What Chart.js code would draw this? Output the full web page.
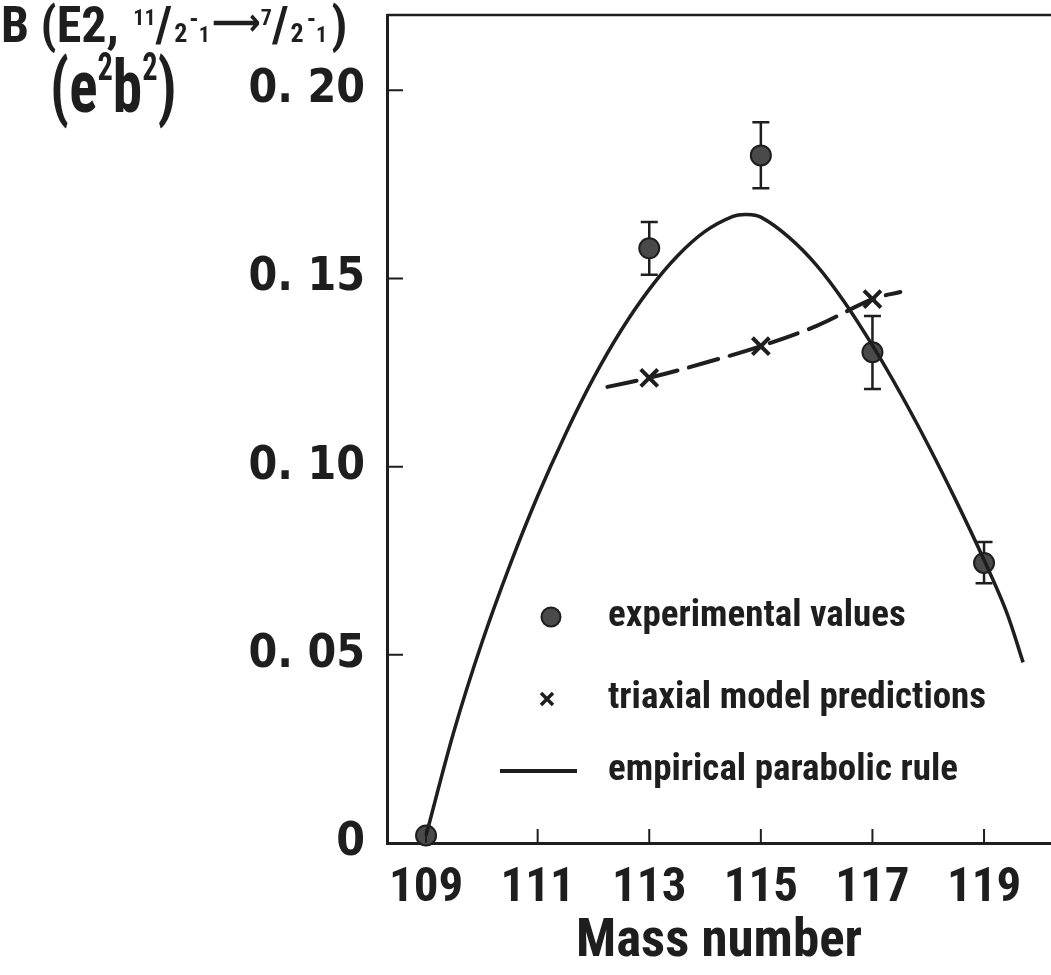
<!DOCTYPE html>
<html>
<head>
<meta charset="utf-8">
<script src="https://cdn.jsdelivr.net/npm/chart.js@4/dist/chart.umd.min.js"></script>
<style>
  html, body { margin: 0; padding: 0; background: #fff; overflow: hidden; }
  canvas { display: block; }
</style>
</head>
<body>
<canvas id="chart" width="1051" height="975" style="width:1051px;height:975px"></canvas>
<script>
// experimental B(E2) values with error bars
const expMass = [109, 113, 115, 117, 119];
const expValue = [0.002, 0.158, 0.1827, 0.1304, 0.0744];
const expLow = [0.002, 0.151, 0.174, 0.1206, 0.069];
const expHigh = [0.002, 0.165, 0.1915, 0.140, 0.080];

// triaxial model predictions (crosses) and the dashed guide through them
const triMass = [113, 115, 117];
const triValue = [0.1236, 0.132, 0.1445];
const dashMass = [112.25, 113, 114, 115, 116, 117, 117.5];
const dashValue = [0.1212, 0.1236, 0.1276, 0.132, 0.1374, 0.1445, 0.1464];

// empirical parabolic rule
const curveMass = [109, 109.5, 110, 110.5, 111, 111.5, 112, 112.5, 113, 113.5, 114, 114.5, 114.75, 115, 115.5, 116, 116.5, 117, 117.5, 118, 118.5, 119, 119.4, 119.7];
const curveValue = [0.002, 0.0297, 0.0532, 0.0737, 0.0922, 0.1087, 0.1235, 0.1363, 0.1471, 0.1559, 0.1625, 0.1665, 0.1670, 0.1663, 0.161, 0.1535, 0.1437, 0.1322, 0.1195, 0.1057, 0.0909, 0.0752, 0.0615, 0.048];

const xTicks = [109, 111, 113, 115, 117, 119];
const yTicks = [0, 0.05, 0.10, 0.15, 0.20];

const INK = '#1e1e1e';
const FONT = "'Roboto Condensed', 'Open Sans Condensed', 'DejaVu Sans Condensed', sans-serif";
const YFONT = "'DejaVu Sans Condensed', 'Roboto Condensed', sans-serif";

const pts = (xs, ys) => xs.map((x, i) => ({ x: x, y: ys[i] }));

function font(size) {
  return 'bold ' + size + 'px ' + FONT;
}

// draw a row of text pieces with different sizes / raises
function drawRuns(ctx, x, base, runs) {
  runs.forEach(r => {
    ctx.font = font(r.s);
    ctx.fillText(r.t, x, base + (r.dy || 0));
    x += ctx.measureText(r.t).width + (r.gap || 0);
  });
}

const extras = {
  id: 'extras',
  beforeDatasetsDraw(chart) {
    const { ctx } = chart;
    const xs = chart.scales.x, ys = chart.scales.y;
    ctx.save();
    ctx.strokeStyle = INK;
    ctx.lineWidth = 2.5;
    expMass.forEach((m, i) => {
      if (expHigh[i] - expLow[i] <= 0) return;
      const px = xs.getPixelForValue(m);
      const top = ys.getPixelForValue(expHigh[i]);
      const bot = ys.getPixelForValue(expLow[i]);
      ctx.beginPath();
      ctx.moveTo(px, top); ctx.lineTo(px, bot);
      ctx.moveTo(px - 8.5, top); ctx.lineTo(px + 8.5, top);
      ctx.moveTo(px - 8.5, bot); ctx.lineTo(px + 8.5, bot);
      ctx.stroke();
    });
    ctx.restore();
  },
  afterDraw(chart) {
    const { ctx, chartArea: a } = chart;
    const xs = chart.scales.x, ys = chart.scales.y;
    ctx.save();
    ctx.strokeStyle = INK;
    ctx.fillStyle = INK;

    // top frame line
    ctx.lineWidth = 2.5;
    ctx.beginPath();
    ctx.moveTo(a.left, a.top); ctx.lineTo(a.right, a.top);
    ctx.stroke();

    // inward tick marks
    ctx.lineWidth = 2;
    ctx.beginPath();
    yTicks.forEach(v => {
      if (v === 0) return;
      const py = ys.getPixelForValue(v);
      ctx.moveTo(a.left, py); ctx.lineTo(a.left + 16, py);
    });
    xTicks.forEach(v => {
      const px = xs.getPixelForValue(v);
      ctx.moveTo(px, a.bottom); ctx.lineTo(px, a.bottom - 14);
    });
    ctx.stroke();

    // y axis title, two lines at top left
    ctx.textBaseline = 'alphabetic';
    ctx.textAlign = 'left';
    drawRuns(ctx, 1, 42, [
      { t: 'B (E2, ', s: 50, gap: 3 },
      { t: '11', s: 22, dy: -17 },
      { t: '/', s: 50, gap: 2 },
      { t: '2', s: 26, gap: 2 },
      { t: '-', s: 26, dy: -15 },
      { t: '1', s: 22, gap: 2 },
      { t: '⟶', s: 38, dy: -7 },
      { t: '7', s: 22, dy: -17 },
      { t: '/', s: 50, gap: 2 },
      { t: '2', s: 26, gap: 3 },
      { t: '-', s: 26, dy: -15 },
      { t: '1', s: 22, gap: 4 },
      { t: ')', s: 50 }
    ]);
    ctx.save();
    ctx.scale(0.8, 1);
    drawRuns(ctx, 50 / 0.8, 112, [
      { t: '(e', s: 74 },
      { t: '2', s: 38, dy: -32 },
      { t: 'b', s: 74 },
      { t: '2', s: 38, dy: -32 },
      { t: ')', s: 74 }
    ]);
    ctx.restore();

    // legend inside the plot
    const lx = a.left + 164;
    const tx = a.left + 221;
    const rows = [a.top + 602, a.top + 684, a.top + 756];
    ctx.textBaseline = 'middle';
    ctx.font = font(37);
    ctx.fillText('experimental values', tx, rows[0]);
    ctx.fillText('triaxial model predictions', tx, rows[1]);
    ctx.fillText('empirical parabolic rule', tx, rows[2]);

    ctx.fillStyle = '#4a4a4a';
    ctx.lineWidth = 2;
    ctx.beginPath();
    ctx.arc(lx, rows[0], 9.5, 0, Math.PI * 2);
    ctx.fill();
    ctx.stroke();

    ctx.lineWidth = 3.5;
    ctx.beginPath();
    ctx.moveTo(lx - 10, rows[1] - 6); ctx.lineTo(lx + 2, rows[1] + 6);
    ctx.moveTo(lx - 10, rows[1] + 6); ctx.lineTo(lx + 2, rows[1] - 6);
    ctx.stroke();

    ctx.lineWidth = 4;
    ctx.beginPath();
    ctx.moveTo(lx - 51, rows[2]); ctx.lineTo(lx + 26, rows[2]);
    ctx.stroke();
    ctx.restore();
  }
};

// drop the label overhang padding so the plot box keeps its own frame
function noOverhang(s) {
  s.paddingTop = 0; s.paddingBottom = 0;
  s.paddingLeft = 0; s.paddingRight = 0;
}

new Chart(document.getElementById('chart'), {
  type: 'line',
  data: {
    datasets: [
      {
        label: 'empirical parabolic rule',
        data: pts(curveMass, curveValue),
        borderColor: INK,
        borderWidth: 3.5,
        pointRadius: 0,
        tension: 0.35,
        fill: false
      },
      {
        label: 'triaxial guide',
        data: pts(dashMass, dashValue),
        borderColor: INK,
        borderWidth: 4,
        borderDash: [30, 12],
        borderCapStyle: 'round',
        pointRadius: 0,
        tension: 0.35,
        fill: false
      },
      {
        label: 'triaxial model predictions',
        data: pts(triMass, triValue),
        showLine: false,
        pointStyle: 'crossRot',
        pointRadius: 12,
        pointBorderWidth: 4,
        pointBorderColor: INK,
        borderColor: INK
      },
      {
        label: 'experimental values',
        data: pts(expMass, expValue),
        showLine: false,
        pointStyle: 'circle',
        pointRadius: 10,
        pointBackgroundColor: '#4a4a4a',
        pointBorderColor: INK,
        pointBorderWidth: 2,
        clip: false
      }
    ]
  },
  options: {
    responsive: false,
    maintainAspectRatio: false,
    animation: false,
    devicePixelRatio: 1,
    layout: { autoPadding: false, padding: { top: 15, left: 0, right: 0, bottom: 0 } },
    plugins: {
      legend: { display: false },
      tooltip: { enabled: false }
    },
    scales: {
      x: {
        type: 'linear',
        min: 108.3,
        max: 120.2,
        afterBuildTicks: s => { s.ticks = xTicks.map(v => ({ value: v })); },
        afterFit: s => { s.height = 132; noOverhang(s); },
        grid: { display: true, drawOnChartArea: false, drawTicks: false },
        border: { display: true, color: INK, width: 3 },
        ticks: {
          color: INK,
          padding: 16,
          font: { family: FONT, size: 49, weight: 'bold' },
          callback: v => String(v)
        },
        title: {
          display: true,
          text: 'Mass number',
          color: INK,
          padding: { top: 0, bottom: 0 },
          font: { family: FONT, size: 53, weight: 'bold' }
        }
      },
      y: {
        min: 0,
        max: 0.22,
        afterBuildTicks: s => { s.ticks = yTicks.map(v => ({ value: v })); },
        afterFit: s => { s.width = 387; noOverhang(s); },
        grid: { display: true, drawOnChartArea: false, drawTicks: false },
        border: { display: true, color: INK, width: 3 },
        ticks: {
          color: INK,
          padding: 22,
          font: { family: YFONT, size: 46, weight: 'bold' },
          callback: v => v === 0 ? '0' : v.toFixed(2).replace('.', '. ')
        }
      }
    }
  },
  plugins: [extras]
});
</script>
</body>
</html>
